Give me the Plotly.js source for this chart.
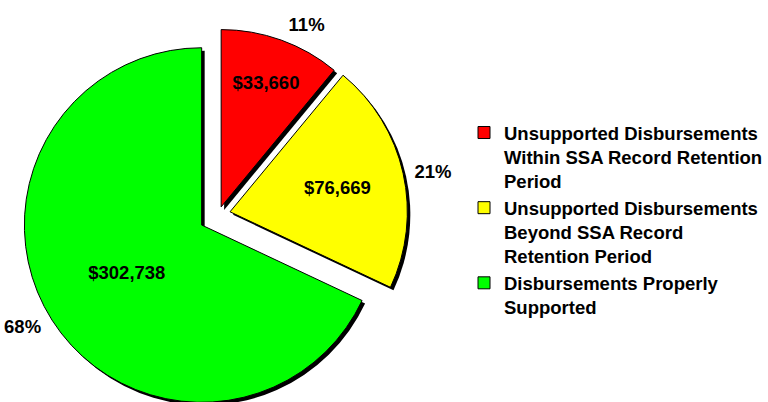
<!DOCTYPE html>
<html><head><meta charset="utf-8">
<script src="https://cdn.plot.ly/plotly-3.0.1.min.js"></script>
<style>html,body{margin:0;padding:0;overflow:hidden;background:#fff;} #chart{width:768px;height:420px;}</style>
</head><body><div id="chart"></div>
<script>
const categories = [
  'Unsupported Disbursements<br>Within SSA Record Retention<br>Period',
  'Unsupported Disbursements<br>Beyond SSA Record<br>Retention Period',
  'Disbursements Properly<br>Supported'
];
const percents = [11, 21, 68];
const amounts = [33660, 76669, 302738];
const colors = ['#FF0000', '#FFFF00', '#00FF00'];
const pulls = [0.045, 0.067, 0.112];

const W = 768, H = 420;
const cx = 219.3, cy = 214.4, R = 178;
function dom(dx, dy, r) {
  const half = r * (1 + Math.max(...pulls));
  return {x: [(cx + dx - half) / W, (cx + dx + half) / W],
          y: [(H - cy - dy - half) / H, (H - cy - dy + half) / H]};
}
const FONT = 'Arial, "Liberation Sans", sans-serif';
const FS = 18.5;
const base = {type: 'pie', values: percents, labels: categories, sort: false,
  direction: 'clockwise', rotation: 0, pull: pulls, hoverinfo: 'skip'};

const shadow = Object.assign({}, base, {
  marker: {colors: categories.map(() => '#000000'), line: {width: 0}},
  textinfo: 'none', showlegend: false, domain: dom(3, 3, R)
});
const main = Object.assign({}, base, {
  marker: {colors: colors, line: {color: '#000000', width: 1}},
  text: amounts.map(v => '$' + v.toLocaleString('en-US')),
  texttemplate: '%{text}', textposition: 'inside', insidetextorientation: 'horizontal',
  insidetextfont: {family: FONT, size: FS, color: '#000000', weight: 'bold'},
  showlegend: true, domain: dom(0, 0, R)
});
const labelsOut = Object.assign({}, base, {
  marker: {colors: categories.map(() => 'rgba(0,0,0,0)'), line: {width: 0}},
  texttemplate: '%{value}%', textposition: 'outside',
  outsidetextfont: {family: FONT, size: FS, color: '#000000', weight: 'bold'},
  showlegend: false, domain: dom(0, 0, R + 6)
});

Plotly.newPlot('chart', [shadow, main, labelsOut], {
  width: W, height: H, margin: {l: 0, r: 0, t: 0, b: 0},
  paper_bgcolor: '#ffffff', plot_bgcolor: '#ffffff',
  showlegend: true,
  legend: {x: 466 / W, xanchor: 'left', y: (H - 114) / H, yanchor: 'top', valign: 'top',
    bgcolor: 'rgba(0,0,0,0)', traceorder: 'normal',
    font: {family: FONT, size: FS, color: '#000000', weight: 'bold'}}
}, {staticPlot: true, displayModeBar: false});
</script></body></html>
